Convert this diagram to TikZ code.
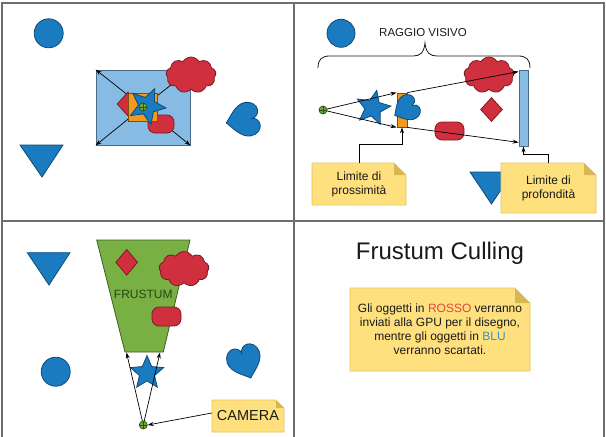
\documentclass[tikz,border=0pt]{standalone}
\usepackage{fontspec}
\setmainfont{Liberation Sans}
\usetikzlibrary{shapes.geometric,shapes.symbols,arrows.meta}
\definecolor{bluef}{HTML}{1B7BC0}
\definecolor{bluel}{HTML}{0E4A75}
\definecolor{redf}{HTML}{D0303E}
\definecolor{redl}{HTML}{7E1A24}
\definecolor{lbf}{HTML}{88BBE4}
\definecolor{lbl}{HTML}{4A6A85}
\definecolor{orf}{HTML}{F4981E}
\definecolor{orl}{HTML}{7A4E10}
\definecolor{grf}{HTML}{78B043}
\definecolor{grl}{HTML}{3E5E22}
\definecolor{frtext}{HTML}{2A4514}
\definecolor{crf}{HTML}{6DAA3B}
\definecolor{crl}{HTML}{2F4F18}
\definecolor{framec}{HTML}{6E6E6E}
\definecolor{notef}{HTML}{FFE07F}
\definecolor{notel}{HTML}{E3C45E}
\definecolor{notefold}{HTML}{D8B654}
\definecolor{rosso}{HTML}{E8433A}
\definecolor{blu}{HTML}{3A93BC}
\definecolor{txt}{HTML}{1A1A1A}
\newcommand\myheart[4]{%
  \begin{scope}[shift={(#1,#2)}, rotate=#3, scale=#4]
    \draw[bluesh] (0,1) .. controls (-0.3,0.7) and (-1,0.3) .. (-1,-0.3)
      .. controls (-1,-0.7) and (-0.7,-0.95) .. (-0.45,-0.95)
      .. controls (-0.2,-0.95) and (0,-0.75) .. (0,-0.55)
      .. controls (0,-0.75) and (0.2,-0.95) .. (0.45,-0.95)
      .. controls (0.7,-0.95) and (1,-0.7) .. (1,-0.3)
      .. controls (1,0.3) and (0.3,0.7) .. (0,1) -- cycle;
  \end{scope}}
\newcommand\mynote[7]{%
  \filldraw[fill=notef, draw=notel, line width=0.6pt] (#2,#3) -- (#4-#6,#3) -- (#4,#3+#6) -- (#4,#5) -- (#2,#5) -- cycle;
  \fill[notefold] (#4-#6,#3) -- (#4,#3+#6) -- (#4-#6,#3+#6) -- cycle;
  \node[notetext, minimum width={#4-#2}, minimum height={#5-#3}] (#1) at ({(#2+#4)/2},{(#3+#5)/2}) {#7};}
\begin{document}
\begin{tikzpicture}[x=1pt,y=-1pt,
  bluesh/.style={fill=bluef, draw=bluel, line width=0.8pt},
  redsh/.style={fill=redf, draw=redl, line width=0.8pt},
  bluecirc/.style={circle, bluesh, minimum size=29pt, inner sep=0pt},
  bluestar/.style={star, star points=5, star point ratio=2.2, minimum size=36pt, inner sep=0pt, bluesh},
  redcloud/.style={cloud, cloud puffs=9, cloud puff arc=120, aspect=1.4, minimum width=50pt, minimum height=36pt, inner sep=0pt, redsh},
  reddia/.style={diamond, minimum width=22pt, minimum height=24pt, inner sep=0pt, redsh},
  redrr/.style={rectangle, rounded corners=7pt, minimum width=28pt, minimum height=18pt, inner sep=0pt, redsh},
  lbbox/.style={rectangle, fill=lbf, draw=lbl, line width=0.8pt, inner sep=0pt},
  orbox/.style={rectangle, fill=orf, draw=orl, line width=0.8pt, inner sep=0pt},
  arr/.style={-{Stealth[length=6pt,width=4pt]}, line width=0.7pt, black},
  crossn/.style={circle, minimum size=8pt, inner sep=0pt, fill=crf, draw=crl, line width=0.7pt,
    path picture={\draw[crl, line width=0.6pt] (path picture bounding box.north) -- (path picture bounding box.south)
      (path picture bounding box.west) -- (path picture bounding box.east);}},
  notetext/.style={rectangle, inner sep=0pt, align=center, text=txt, font=\fontsize{12}{14}\selectfont},
  framel/.style={draw=framec, line width=1.3pt},
]
\useasboundingbox (0,0) rectangle (606,437);
% frame
\draw[framel] (2,3) rectangle (604,445);
\draw[framel] (294,3) -- (294,445);
\draw[framel] (2,221) -- (604,221);

% ---------- panel 1 ----------
\node[bluecirc] (ci1) at (48.7,33.3) {};
\draw[bluesh] (20,145) -- (63,145) -- (42,177) -- cycle;
\myheart{243}{120}{-80}{17}
\node[lbbox, minimum width=94pt, minimum height=75pt] (fov) at (143,107.5) {};
\coordinate (c1) at (143,107);
\draw[arr] (c1) -- (fov.north west);
\draw[arr] (c1) -- (fov.north east);
\draw[arr] (c1) -- (fov.south west);
\draw[arr] (c1) -- (fov.south east);
\node[redcloud] (cl1) at (191,75) {};
\node[reddia] (d1) at (128,104) {};
\node[redrr, minimum width=26pt] (rr1) at (161,124) {};
\node[orbox, minimum width=29pt, minimum height=28pt] (sq1) at (142.5,107.5) {};
\node[bluestar, minimum size=38pt, rotate=-24] (st1) at (147,106) {};
\node[crossn] (x1) at (c1) {};

% ---------- panel 2 ----------
\node[bluecirc, minimum size=28pt] (ci2) at (341,33.3) {};
\node[text=txt, font=\fontsize{11.5}{13}\selectfont] (rv) at (423,33) {RAGGIO VISIVO};
\draw[line width=0.8pt, txt] (318,68) .. controls (318,59) and (322,56) .. (330,56) -- (413,56)
  .. controls (420,56) and (424,53) .. (425,43) .. controls (426,53) and (430,56) .. (437,56)
  -- (518,56) .. controls (526,56) and (530,59) .. (530,68);
\node[orbox, minimum width=10pt, minimum height=34pt] (near) at (402,110) {};
\node[lbbox, minimum width=9pt, minimum height=76pt] (far) at (523.5,108) {};
\node[bluestar] (st2) at (373,108) [rotate=-12] {};
\myheart{406}{109}{-60}{13}
\node[redcloud] (cl2) at (489,75) {};
\node[reddia] (d2) at (491.5,109.5) {};
\node[redrr, minimum width=29pt] (rr2) at (449.5,131) {};
\coordinate (c2) at (323,110);
\draw[arr] (c2) -- (near.north west);
\draw[arr] (near.north east) -- ([yshift=-2pt]far.north west);
\draw[arr] (c2) -- (near.south west);
\draw[arr] (near.south east) -- ([yshift=4pt]far.south west);
\node[crossn] (x2) at (c2) {};
\draw[bluesh] (470,172) -- (513,172) -- (491.5,204) -- cycle;
\mynote{np}{312}{163}{406}{205}{12}{Limite di\\prossimità}
\mynote{nf}{501}{163}{596}{213}{12}{Limite di\\profondità}
\draw[arr] (np.north) -- ++(0,-18) -| (near.south);
\draw[arr] (nf.north) -- ++(0,-8) -| (far.south);

% ---------- panel 3 ----------
\filldraw[fill=grf, draw=grl, line width=0.8pt] (96.7,240) -- (190,240) -- (163.3,352) -- (125,352) -- cycle;
\coordinate (tbl) at (126.5,352.5);
\coordinate (tbr) at (160,352.5);
\node[text=frtext, font=\fontsize{12}{14}\selectfont] (fr) at (143.3,294) {FRUSTUM};
\draw[bluesh] (27.3,252.7) -- (70,252.7) -- (49,285) -- cycle;
\node[reddia, minimum height=26pt] (d3) at (126.7,262.3) {};
\node[redcloud, minimum height=35pt] (cl3) at (184,269) {};
\node[redrr, minimum width=29pt, minimum height=19pt] (rr3) at (166.5,316.5) {};
\node[bluecirc] (ci3) at (55.7,371.7) {};
\myheart{245}{362}{20}{17}
\node[bluestar, minimum size=35pt] (st3) at (147,373) {};
\coordinate (c3) at (143.3,425);
\draw[arr] (c3) -- (tbl);
\draw[arr] (c3) -- (tbr);
\node[crossn] (x3) at (c3) {};
\mynote{camn}{212}{400}{284}{432}{8}{\fontsize{14.5}{16}\selectfont CAMERA}
\draw[arr] ([yshift=3pt]camn.west) -- (x3.east);

% ---------- panel 4 ----------
\node[text=txt, font=\fontsize{24}{28}\selectfont] (title) at (440,253) {Frustum Culling};
\mynote{info}{350}{288}{530}{371}{15}{\fontsize{12}{15}\selectfont Gli oggetti in \textcolor{rosso}{ROSSO} verranno\\inviati alla GPU per il disegno,\\mentre gli oggetti in \textcolor{blu}{BLU}\\verranno scartati.}
\end{tikzpicture}
\end{document}
